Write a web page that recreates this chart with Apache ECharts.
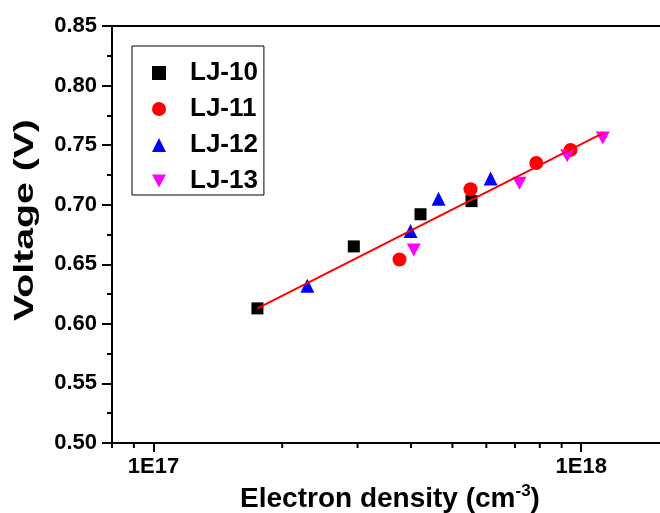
<!DOCTYPE html>
<html>
<head>
<meta charset="utf-8">
<script src="https://cdn.jsdelivr.net/npm/echarts@6/dist/echarts.min.js"></script>
<style>
  html, body { margin: 0; padding: 0; background: #fff; }
  #chart { width: 660px; height: 513px; }
</style>
</head>
<body>
<div id="chart"></div>
<script>
// Electron density (cm^-3) and voltage (V) for each sample
const lj10 = [[1.75e17, 0.613], [2.94e17, 0.665], [4.21e17, 0.692], [5.54e17, 0.703]];
const lj11 = [[3.76e17, 0.654], [5.51e17, 0.713], [7.85e17, 0.735], [9.44e17, 0.746]];
const lj12 = [[2.29e17, 0.632], [3.99e17, 0.678], [4.64e17, 0.705], [6.14e17, 0.722]];
const lj13 = [[4.06e17, 0.662], [7.17e17, 0.718], [9.27e17, 0.741], [1.123e18, 0.756]];
// Linear fit (voltage vs log density), drawn between its end points
const fitLine = [[1.75e17, 0.613], [1.13e18, 0.7605]];

const seriesNames = ['LJ-10', 'LJ-11', 'LJ-12', 'LJ-13'];
const yTicks = [0.50, 0.55, 0.60, 0.65, 0.70, 0.75, 0.80, 0.85];
const xMajorTicks = [1e17, 1e18];
const xMinorTicks = [8e16, 9e16, 2e17, 3e17, 4e17, 5e17, 6e17, 7e17, 8e17, 9e17];
const xRange = [8e16, 2e18];

const FONT = "'Liberation Sans', Arial, Helvetica, sans-serif";
const downTri = 'path://M0,0L14,0L7,13Z';

const chart = echarts.init(document.getElementById('chart'), null, { renderer: 'canvas' });

// short minor ticks under the log axis at 2..9 x 10^n
const minorTickSeries = {
  type: 'custom',
  name: 'xminor',
  xAxisIndex: 0,
  yAxisIndex: 0,
  silent: true,
  clip: false,
  z: 5,
  data: xMinorTicks.map(v => [v, yTicks[0]]),
  renderItem: function (params, api) {
    const p = api.coord([api.value(0), api.value(1)]);
    return {
      type: 'line',
      shape: { x1: p[0], y1: p[1], x2: p[0], y2: p[1] + 5 },
      style: { stroke: '#000', lineWidth: 2 }
    };
  }
};

const option = {
  backgroundColor: '#fff',
  animation: false,
  textStyle: { fontFamily: FONT },
  grid: { left: 112, top: 26, width: 598, height: 417, outerBoundsMode: 'none', containLabel: false },
  legend: {
    orient: 'vertical',
    left: 132,
    top: 46,
    padding: [14, 6, 1, 20],
    itemWidth: 14,
    itemHeight: 14,
    itemGap: 10,
    borderColor: '#000',
    borderWidth: 1,
    backgroundColor: '#fff',
    textStyle: {
      fontFamily: FONT, fontSize: 26, fontWeight: 'bold', color: '#000',
      lineHeight: 26, padding: [0, 0, 0, 19]
    },
    data: [
      { name: 'LJ-10', icon: 'rect' },
      { name: 'LJ-11', icon: 'circle' },
      { name: 'LJ-12', icon: 'triangle' },
      { name: 'LJ-13', icon: downTri }
    ]
  },
  graphic: [
    {
      type: 'text',
      x: 25,
      y: 220,
      rotation: Math.PI / 2,
      scaleX: 1.4,
      silent: true,
      style: {
        text: 'Voltage (V)',
        fontFamily: FONT, fontSize: 28, fontWeight: 'bold',
        fill: '#000', align: 'center', verticalAlign: 'middle'
      }
    }
  ],
  xAxis: [
    {
      type: 'log',
      logBase: 10,
      min: xRange[0],
      max: xRange[1],
      position: 'bottom',
      name: '{t|Electron density (cm}{s|-3}{t|)}',
      nameLocation: 'middle',
      nameGap: 20,
      nameTextStyle: {
        padding: [0, 42, 0, 0],
        rich: {
          t: { fontFamily: FONT, fontSize: 28, fontWeight: 'bold', color: '#000' },
          s: { fontFamily: FONT, fontSize: 17, fontWeight: 'bold', color: '#000', padding: [0, 0, 16, 0] }
        }
      },
      axisLine: { show: true, onZero: false, lineStyle: { color: '#000', width: 2 } },
      axisTick: { show: true, inside: false, length: 9, lineStyle: { color: '#000', width: 2 } },
      minorTick: { show: false },
      splitLine: { show: false },
      axisLabel: {
        show: true,
        margin: 13,
        fontFamily: FONT, fontSize: 22, fontWeight: 'bold', color: '#000',
        showMinLabel: false, showMaxLabel: false,
        formatter: function (v) {
          const e = Math.log10(v);
          const r = Math.round(e);
          return (Math.abs(e - r) < 1e-6 && xMajorTicks.indexOf(Math.pow(10, r)) >= 0) ? '1E' + r : '';
        }
      }
    },
    {
      type: 'log',
      logBase: 10,
      min: xRange[0],
      max: xRange[1],
      position: 'top',
      axisLine: { show: true, onZero: false, lineStyle: { color: '#000', width: 2 } },
      axisTick: { show: false },
      axisLabel: { show: false },
      splitLine: { show: false }
    }
  ],
  yAxis: {
    type: 'value',
    min: yTicks[0],
    max: yTicks[yTicks.length - 1],
    interval: 0.05,
    axisLine: { show: true, onZero: false, lineStyle: { color: '#000', width: 2 } },
    axisTick: { show: true, inside: false, length: 10, lineStyle: { color: '#000', width: 2 } },
    minorTick: { show: true, splitNumber: 2, length: 5, lineStyle: { color: '#000', width: 2 } },
    splitLine: { show: false },
    axisLabel: {
      margin: 15,
      fontFamily: FONT, fontSize: 22, fontWeight: 'bold', color: '#000',
      formatter: v => v.toFixed(2)
    }
  },
  series: [
    {
      name: seriesNames[0], type: 'scatter', data: lj10,
      symbol: 'rect', symbolSize: 12, itemStyle: { color: '#000000', opacity: 1 }, z: 2
    },
    {
      name: seriesNames[1], type: 'scatter', data: lj11,
      symbol: 'circle', symbolSize: 14, itemStyle: { color: '#ff0000', opacity: 1 }, z: 2
    },
    {
      name: seriesNames[2], type: 'scatter', data: lj12,
      symbol: 'triangle', symbolSize: 14, itemStyle: { color: '#0000ff', opacity: 1 }, z: 2
    },
    {
      name: seriesNames[3], type: 'scatter', data: lj13,
      symbol: downTri, symbolSize: [14, 13], itemStyle: { color: '#ff00ff', opacity: 1 }, z: 2
    },
    {
      name: 'fit', type: 'line', data: fitLine,
      showSymbol: false, symbol: 'none', silent: true,
      lineStyle: { color: '#ff0000', width: 2 }, z: 3
    },
    minorTickSeries
  ]
};

chart.setOption(option);
</script>
</body>
</html>
